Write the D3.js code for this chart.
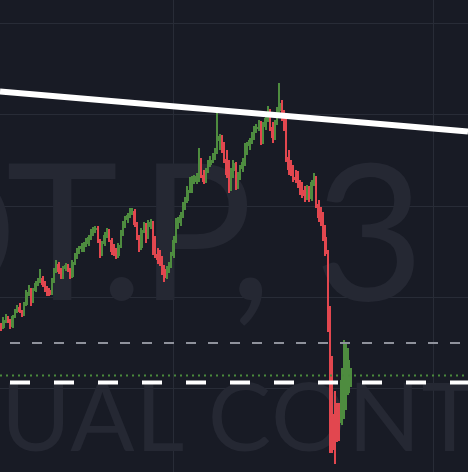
<!DOCTYPE html>
<html><head><meta charset="utf-8">
<script src="https://cdn.jsdelivr.net/npm/d3@7"></script>
<style>html,body{margin:0;padding:0;background:#181b25;overflow:hidden}</style>
</head><body><svg id="c" width="468" height="472"></svg>
<script>
// ---- data (price units) ----
const openP = [148,144,151,155,150,145,155,161,165,160,157,167,179,183,170,181,188,191,194,188,
183,182,178,191,201,208,201,195,203,206,202,195,209,215,221,223,222,227,228,234,
239,242,244,231,218,228,236,241,232,223,219,216,226,238,247,252,256,259,261,248,
235,224,241,247,235,245,249,228,218,213,211,203,195,201,206,216,231,246,249,256,
266,271,281,282,291,290,295,311,297,291,301,307,311,315,321,331,335,323,313,304,
283,301,308,285,296,303,309,321,326,331,336,343,344,349,330,345,353,361,345,335,
349,361,368,355,345,315,303,301,295,299,288,282,278,274,282,273,289,294,268,255,
251,235,219,162,60,58,67,62,49,55,72,79,87];
const closeP = [142,152,156,150,144,156,162,165,160,156,168,180,184,169,182,189,192,195,187,182,
179,177,192,202,209,200,194,204,207,202,194,210,216,222,224,226,228,232,235,240,
243,244,231,217,229,237,241,232,220,218,215,227,239,248,253,257,260,262,247,234,
222,242,248,234,246,250,227,217,212,210,202,194,202,207,217,232,247,250,257,267,
272,282,290,292,294,296,312,296,290,302,308,312,316,322,332,336,322,312,297,282,
302,309,284,297,304,310,322,327,332,337,344,345,350,329,346,354,362,344,334,350,
362,369,354,344,314,302,300,294,292,287,280,276,273,282,272,290,296,267,254,250,
234,218,142,52,22,22,32,34,92,100,122,112,100];
const highP = [149,155,158,156,153,157,163,167,169,162,170,182,187,184,184,191,194,203,196,191,
186,184,194,204,212,210,204,206,209,208,204,212,219,224,226,229,230,234,237,243,
245,246,246,233,231,240,244,243,234,228,224,229,242,251,256,259,264,264,263,250,
237,244,250,249,252,253,251,236,224,222,216,207,206,210,220,236,254,255,260,270,
275,286,295,296,297,299,324,314,302,304,312,316,319,324,365,338,337,330,322,312,
304,312,310,300,307,314,329,330,334,340,346,348,352,351,350,357,366,363,350,352,
365,389,372,362,354,322,312,307,302,301,292,290,286,287,286,292,299,296,272,265,
260,247,222,166,116,81,69,69,104,132,130,124,104];
const lowP = [141,143,149,149,143,144,154,159,159,155,156,166,176,166,169,180,186,189,185,180,
176,176,177,189,199,198,193,193,201,200,193,194,207,213,218,220,220,225,226,232,
236,239,229,214,216,226,234,230,217,216,213,214,224,236,244,249,254,257,245,232,
220,222,239,229,233,243,217,214,208,206,197,190,193,199,204,214,229,243,246,254,
262,269,279,279,288,288,290,294,288,289,299,305,309,312,318,322,319,309,294,279,
281,294,282,283,292,300,306,317,322,328,332,339,341,327,328,342,350,341,329,332,
347,357,351,341,310,297,296,290,289,284,277,274,270,272,270,271,286,264,250,246,
231,216,140,19,19,8,30,31,47,53,62,77,85];
const priceGrid = [84, 175, 266, 358, 449];
const timeGrid = [74.7, 187.8];
const trendIdx = [-0.5, 203];
const trendPrice = [380.5, 340.5];
const greyLevel = 129;
const greenLevel = 96.5;
const whiteLevel = 89.5;
const watermarkLines = ["BTCUSDT.P, 3", "BTCUSDT PERPETUAL CONTRACT"];

// ---- drawing ----
const W = 468, H = 472;
const svg = d3.select("#c");
const x = d3.scaleLinear().domain([-0.5, 203]).range([0, W]);
const y = d3.scaleLinear().domain([0, 472]).range([H, 0]);
const step = x(1) - x(0);

svg.append("rect").attr("width", W).attr("height", H).attr("fill", "#181b25");

// grid
const grid = svg.append("g").attr("shape-rendering", "crispEdges");
grid.selectAll(".hg").data(priceGrid).join("line")
  .attr("x1", 0).attr("x2", W)
  .attr("y1", d => Math.round(y(d)) + 0.5).attr("y2", d => Math.round(y(d)) + 0.5)
  .attr("stroke", "#282c37").attr("stroke-width", 1);
grid.selectAll(".vg").data(timeGrid).join("line")
  .attr("y1", 0).attr("y2", H)
  .attr("x1", d => Math.round(x(d)) + 0.5).attr("x2", d => Math.round(x(d)) + 0.5)
  .attr("stroke", "#282c37").attr("stroke-width", 1);

// watermark
const wmColor = "#252833";
const ctx = document.createElement("canvas").getContext("2d");
function placeLine(txt, size, base, anchorSub, inkX, ls, ws) {
  const t = svg.append("text").text(txt)
    .attr("font-family", "Lato").attr("font-weight", 400)
    .attr("font-size", size).attr("fill", wmColor)
    .attr("letter-spacing", ls).attr("word-spacing", ws)
    .attr("y", base).attr("x", 0);
  const k = txt.indexOf(anchorSub);
  const p = t.node().getStartPositionOfChar(k).x;
  ctx.font = "400 " + size + "px Lato";
  const abl = ctx.measureText(txt[k]).actualBoundingBoxLeft;
  t.attr("x", inkX + abl - p);
}
placeLine(watermarkLines[0], 190, 300, "T.P", 8, -5.5, 4.5);
placeLine(watermarkLines[1], 95, 451, "UAL", 8, 1, 0);

// candles
const idx = d3.range(openP.length);
const up = i => closeP[i] >= openP[i];
const green = "#4e8c3f", red = "#e2474f";
const cg = svg.append("g").attr("shape-rendering", "crispEdges");
cg.selectAll(".wick").data(idx).join("rect")
  .attr("x", i => Math.round(x(i) - 1))
  .attr("width", 2)
  .attr("y", i => y(highP[i]))
  .attr("height", i => y(lowP[i]) - y(highP[i]))
  .attr("fill", i => up(i) ? green : red);
cg.selectAll(".body").data(idx).join("rect")
  .attr("x", i => Math.round(x(i) - step / 2))
  .attr("width", i => Math.round(x(i) + step / 2) - Math.round(x(i) - step / 2))
  .attr("y", i => y(Math.max(openP[i], closeP[i])))
  .attr("height", i => Math.max(1, Math.abs(y(openP[i]) - y(closeP[i]))))
  .attr("fill", i => up(i) ? green : red);

// level lines
svg.append("line").attr("x1", 0).attr("x2", W)
  .attr("y1", y(greyLevel)).attr("y2", y(greyLevel))
  .attr("stroke", "#8f929c").attr("stroke-width", 2)
  .attr("stroke-dasharray", "10 12").attr("stroke-dashoffset", 12);
svg.append("line").attr("x1", 0).attr("x2", W)
  .attr("y1", y(greenLevel)).attr("y2", y(greenLevel))
  .attr("stroke", "#4a8a3c").attr("stroke-width", 2)
  .attr("stroke-dasharray", "2 4");
svg.append("line").attr("x1", 0).attr("x2", W)
  .attr("y1", y(whiteLevel)).attr("y2", y(whiteLevel))
  .attr("stroke", "#ffffff").attr("stroke-width", 4)
  .attr("stroke-dasharray", "20 24").attr("stroke-dashoffset", 34);

// trend line
svg.append("line")
  .attr("x1", x(trendIdx[0])).attr("y1", y(trendPrice[0]))
  .attr("x2", x(trendIdx[1])).attr("y2", y(trendPrice[1]))
  .attr("stroke", "#ffffff").attr("stroke-width", 6);
</script></body></html>
